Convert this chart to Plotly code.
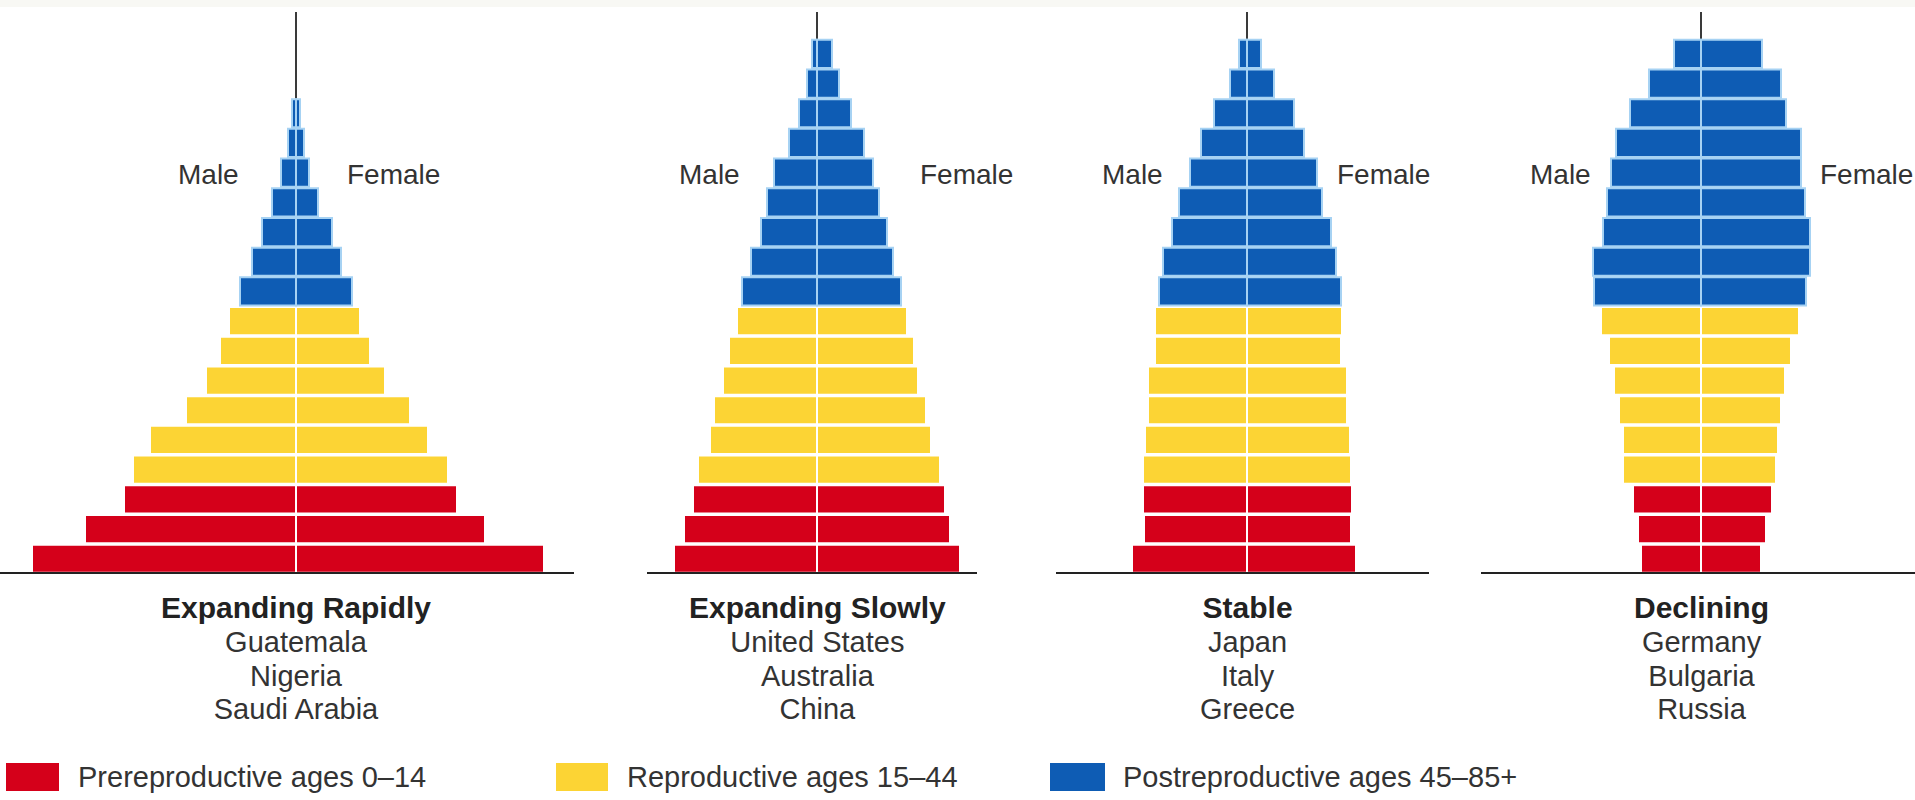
import plotly.graph_objects as go

W, H = 1915, 800

# ---------------- data (half-bar lengths, chart units) ----------------
age_labels = ["0–4", "5–9", "10–14", "15–19", "20–24", "25–29", "30–34", "35–39",
              "40–44", "45–49", "50–54", "55–59", "60–64", "65–69", "70–74",
              "75–79", "80–84", "85+"]

panel_titles = ["Expanding Rapidly", "Expanding Slowly", "Stable", "Declining"]
panel_countries = [
    ["Guatemala", "Nigeria", "Saudi Arabia"],
    ["United States", "Australia", "China"],
    ["Japan", "Italy", "Greece"],
    ["Germany", "Bulgaria", "Russia"],
]

rapid_male = [264, 211, 172, 163, 146, 110, 90, 76, 67, 56, 44, 34, 24, 15, 8, 4, None, None]
rapid_female = [248, 189, 161, 152, 132, 114, 89, 74, 64, 56, 45, 36, 22, 13, 8, 4, None, None]

slow_male = [143, 133, 124, 119, 107, 103, 94, 88, 80, 75, 66, 56, 50, 43, 28, 18, 10, 5]
slow_female = [143, 133, 128, 123, 114, 109, 101, 97, 90, 84, 76, 70, 62, 56, 47, 34, 22, 15]

stable_male = [115, 103, 104, 104, 102, 99, 99, 92, 92, 88, 84, 75, 68, 57, 46, 33, 17, 8]
stable_female = [109, 104, 105, 104, 103, 100, 100, 94, 95, 94, 89, 84, 75, 70, 57, 47, 27, 14]

declining_male = [60, 63, 68, 78, 78, 82, 87, 92, 100, 107, 108, 98, 94, 90, 85, 71, 52, 27]
declining_female = [60, 65, 71, 75, 77, 80, 84, 90, 98, 105, 109, 109, 104, 100, 100, 85, 80, 61]

group_names = ["Prereproductive ages 0–14", "Reproductive ages 15–44", "Postreproductive ages 45–85+"]
group_rows = [range(0, 3), range(3, 9), range(9, 18)]

# ---------------- styling ----------------
group_colors = ["#D5001A", "#FCD434", "#0E5CB4"]
group_edges = ["#FFFFFF", "#FFFFFF", "#A6D2F3"]
text_color = "#333333"
FONT = "Liberation Sans"

panels = [
    (rapid_male, rapid_female),
    (slow_male, slow_female),
    (stable_male, stable_female),
    (declining_male, declining_female),
]
centers = [296, 817, 1247, 1701]
halfspans = [280, 200, 200, 200]
baselines = [(0, 574), (647, 977), (1056, 1429), (1481, 1915)]
male_label_right = [241, 742, 1165, 1593]
female_label_left = [345, 918, 1335, 1818]

ROW_PX = 29.7
BASE_PX = 573
TOP_PX = 12
y0 = -0.48
y1 = y0 + (BASE_PX - TOP_PX) / ROW_PX


def px_x(v):
    return v / W


def px_y(v):
    return 1 - v / H


fig = go.Figure()

for p, (male, female) in enumerate(panels):
    ax = "" if p == 0 else str(p + 1)
    for g in range(3):
        rows = list(group_rows[g])
        for side, vals in (("Male", male), ("Female", female)):
            xs = []
            for r in rows:
                v = vals[r]
                xs.append(None if v is None else (-v if side == "Male" else v))
            fig.add_trace(go.Bar(
                orientation="h",
                x=xs,
                y=rows,
                width=0.95,
                marker=dict(color=group_colors[g],
                            line=dict(color=group_edges[g], width=2)),
                xaxis="x" + ax, yaxis="y" + ax,
                showlegend=False,
                hovertext=[f"{panel_titles[p]} – {side} {age_labels[r]}" for r in rows],
                hoverinfo="text",
            ))

layout = dict(
    width=W, height=H,
    margin=dict(l=0, r=0, t=0, b=0),
    paper_bgcolor="white", plot_bgcolor="rgba(0,0,0,0)",
    barmode="overlay",
    showlegend=False,
    font=dict(family=FONT, color=text_color),
)

ydom = [px_y(BASE_PX), px_y(TOP_PX)]
for p in range(4):
    ax = "" if p == 0 else str(p + 1)
    c, h = centers[p], halfspans[p]
    layout["xaxis" + ax] = dict(
        domain=[px_x(c - h), px_x(c + h)], range=[-h, h],
        anchor="y" + ax, showgrid=False, showticklabels=False, ticks="",
        showline=False, zeroline=True, zerolinecolor="#3A3A3A", zerolinewidth=2,
        fixedrange=True,
    )
    layout["yaxis" + ax] = dict(
        domain=ydom, range=[y0, y1], anchor="x" + ax,
        showgrid=False, showticklabels=False, ticks="", showline=False,
        zeroline=False, fixedrange=True,
    )

fig.update_layout(**layout)

shapes = []
# faint top strip
shapes.append(dict(type="rect", xref="paper", yref="paper", x0=0, x1=1,
                   y0=px_y(7), y1=1, line=dict(width=0), fillcolor="#F8F8F4", layer="below"))
for (a, b) in baselines:
    shapes.append(dict(type="line", xref="paper", yref="paper",
                       x0=px_x(a), x1=px_x(b), y0=px_y(BASE_PX), y1=px_y(BASE_PX),
                       line=dict(color="#222222", width=2)))

annotations = []
for p in range(4):
    c = centers[p]
    annotations.append(dict(text="Male", x=px_x(male_label_right[p]), y=px_y(174),
                            xref="paper", yref="paper", xanchor="right", yanchor="middle",
                            showarrow=False, font=dict(size=28, color=text_color, family=FONT)))
    annotations.append(dict(text="Female", x=px_x(female_label_left[p]), y=px_y(174),
                            xref="paper", yref="paper", xanchor="left", yanchor="middle",
                            showarrow=False, font=dict(size=28, color=text_color, family=FONT)))
    block = ('<span style="font-size:30px;color:#222222"><b>' + panel_titles[p] + "</b></span>"
             + "".join('<br><span style="font-size:29px">' + n + "</span>" for n in panel_countries[p]))
    annotations.append(dict(text=block, x=px_x(c), y=px_y(658),
                            xref="paper", yref="paper", xanchor="center", yanchor="middle",
                            align="center", showarrow=False,
                            font=dict(size=26, color=text_color, family=FONT)))

legend_sq = [(6, 59), (556, 608), (1050, 1105)]
legend_txt = [76, 625, 1121]
for g in range(3):
    a, b = legend_sq[g]
    shapes.append(dict(type="rect", xref="paper", yref="paper",
                       x0=px_x(a), x1=px_x(b), y0=px_y(791), y1=px_y(763),
                       line=dict(width=0), fillcolor=group_colors[g]))
    annotations.append(dict(text=group_names[g], x=px_x(legend_txt[g]), y=px_y(777),
                            xref="paper", yref="paper", xanchor="left", yanchor="middle",
                            showarrow=False, font=dict(size=29, color=text_color, family=FONT)))

fig.update_layout(shapes=shapes, annotations=annotations)
fig.write_html(
    "out.html",
    config={"displayModeBar": False},
    post_script="document.body.style.margin='0';document.body.style.overflow='hidden';",
)
